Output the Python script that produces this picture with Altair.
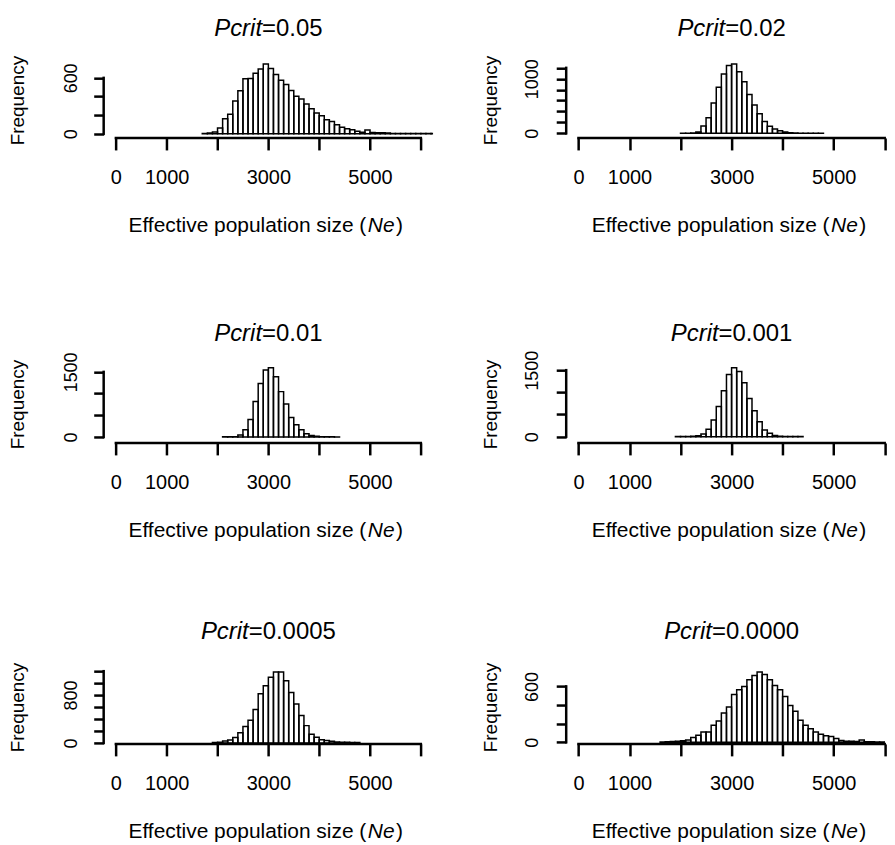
import altair as alt
import pandas as pd

FONT = "Liberation Sans"

# ---------------- data ----------------
pcrit_name = "Pcrit"
pcrit_values = ["=0.05", "=0.02", "=0.01", "=0.001", "=0.0005", "=0.0000"]
x_title_parts = ["Effective population size (", "Ne", ")"]
y_title = "Frequency"

bin_width = 100
first_breaks = [1700, 2000, 2100, 1900, 1900, 1600]

counts_005 = [2, 8, 18, 61, 160, 210, 352, 462, 590, 592, 650, 695, 748, 700, 635,
              574, 528, 463, 402, 372, 320, 268, 223, 192, 151, 131, 97, 70, 54, 42,
              27, 15, 40, 14, 10, 9, 7, 3, 3, 2, 1, 1, 1, 1, 1, 1]
counts_002 = [2, 2, 5, 24, 134, 287, 555, 845, 1088, 1245, 1270, 1130, 945, 713, 520,
              360, 218, 130, 80, 48, 24, 12, 5, 3, 2, 1, 1, 1]
counts_001 = [2, 2, 5, 45, 165, 400, 815, 1235, 1545, 1595, 1390, 1045, 760, 450, 280,
              165, 75, 35, 15, 5, 3, 2, 1]
counts_0001 = [1, 2, 2, 8, 22, 60, 165, 375, 680, 1035, 1400, 1555, 1470, 1215, 862,
               585, 338, 150, 75, 25, 8, 4, 2, 1, 1]
counts_00005 = [8, 12, 30, 50, 90, 170, 275, 380, 560, 822, 955, 1100, 1185, 1185, 1039,
                844, 650, 460, 289, 145, 94, 52, 39, 28, 15, 12, 10, 8, 6]
counts_00000 = [3, 5, 8, 10, 15, 25, 50, 75, 110, 110, 182, 229, 314, 379, 514, 564, 600,
                671, 718, 754, 729, 671, 611, 564, 493, 396, 332, 236, 182, 146, 111, 86,
                70, 62, 39, 20, 12, 10, 8, 25, 5, 4, 3, 3, 2, 1, 1]
all_counts = [counts_005, counts_002, counts_001, counts_0001, counts_00005, counts_00000]

x_ticks = [0, 1000, 2000, 3000, 4000, 5000, 6000]
x_tick_labels = [0, 1000, 3000, 5000]
y_ticks = [[0, 200, 400, 600],
           [0, 200, 400, 600, 800, 1000, 1200],
           [0, 500, 1000, 1500],
           [0, 500, 1000, 1500],
           [0, 200, 400, 600, 800, 1000, 1200],
           [0, 200, 400, 600]]
y_tick_labels = [[0, 600], [0, 1000], [0, 1500], [0, 1500], [0, 800], [0, 600]]

# ---------------- layout ----------------
row_heights = [76, 78, 74]
col_widths = [330.5, 319.6]
x_domains = [[-240, 6240], [-240, 6000]]
y_domains = [[-46, 768], [-86, 1303], [-138, 1654], [-142, 1612], [-17, 1217], [-18, 775]]
title_above_axis = [102.7, 102.0, 105.7]
xtitle_below_axis = 94
ytitle_x = [-76.8, -66.0]
ylabel_pad = [13.0, 14.5]

TITLE_SIZE = 24
XT_SIZE = 21
CHAR_W = {"=": 0.584, ".": 0.278}


def text_width(s, size):
    return sum(CHAR_W.get(ch, 0.556) for ch in s) * size


ITALIC_W = (0.667 + 0.5 + 0.333 + 0.222 + 0.278) * TITLE_SIZE


def label_text(s, xs, xval, y, **kw):
    return alt.Chart(pd.DataFrame({"t": [s], "x": [xval]})).mark_text(
        font=FONT, color="black", baseline="alphabetic", **kw
    ).encode(x=alt.X("x:Q", scale=xs, axis=None), y=alt.value(y), text="t:N")


def panel(i):
    r, c = divmod(i, 2)
    H = row_heights[r]
    W = col_widths[c]
    cnt = all_counts[i]
    starts = [first_breaks[i] + k * bin_width for k in range(len(cnt))]
    df = pd.DataFrame({"start": starts, "count": cnt})
    df["end"] = df["start"] + bin_width

    xs = alt.Scale(domain=x_domains[c], nice=False, zero=False)
    ys = alt.Scale(domain=y_domains[i], nice=False, zero=False)
    lab_x = ",".join(str(v) for v in x_tick_labels)
    lab_y = ",".join(str(v) for v in y_tick_labels[i])

    bars = alt.Chart(df).mark_rect(
        filled=False, stroke="black", strokeWidth=1.5, clip=True
    ).encode(
        x=alt.X("start:Q", scale=xs, axis=alt.Axis(
            values=x_ticks, format="d",
            labelExpr=f"indexof([{lab_x}], datum.value) >= 0 ? datum.label : ''",
            title=None, domain=False, grid=False,
            tickSize=12, tickWidth=2.5, tickColor="black",
            labelFontSize=20, labelFont=FONT, labelColor="black",
            labelPadding=18, labelFlush=False, labelOverlap=False)),
        x2="end:Q",
        y=alt.Y("count:Q", scale=ys, axis=alt.Axis(
            values=y_ticks[i], format="d",
            labelExpr=f"indexof([{lab_y}], datum.value) >= 0 ? datum.label : ''",
            title=y_title, titleX=ytitle_x[c], titleY=H / 2, titleAngle=270,
            titleAlign="center", titleBaseline="bottom",
            titleFontSize=19, titleFont=FONT, titleFontWeight="normal", titleColor="black",
            domain=False, grid=False,
            tickSize=10, tickWidth=2.5, tickColor="black",
            labelAngle=270, labelAlign="center", labelBaseline="bottom",
            labelFontSize=18, labelFont=FONT, labelColor="black",
            labelPadding=ylabel_pad[c], labelFlush=False, labelOverlap=False)),
        y2=alt.datum(0),
    )

    xline = alt.Chart(pd.DataFrame({"lo": [x_ticks[0]], "hi": [x_ticks[-1]]})).mark_rule(
        color="black", strokeWidth=2.5, strokeCap="square"
    ).encode(
        x=alt.X("lo:Q", scale=xs, axis=None), x2="hi:Q", y=alt.value(H)
    )
    yline = alt.Chart(pd.DataFrame({"lo": [y_ticks[i][0]], "hi": [y_ticks[i][-1]]})).mark_rule(
        color="black", strokeWidth=2.5, strokeCap="square"
    ).encode(
        y=alt.Y("lo:Q", scale=ys, axis=None), y2="hi:Q", x=alt.value(0)
    )

    center = (x_ticks[0] + x_ticks[-1]) / 2
    val = pcrit_values[i]
    split = ITALIC_W - (ITALIC_W + text_width(val, TITLE_SIZE)) / 2
    ty = H - title_above_axis[r]
    t_it = label_text(pcrit_name, xs, center, ty, align="right",
                      fontSize=TITLE_SIZE, fontStyle="italic", dx=split)
    t_val = label_text(val, xs, center, ty, align="left",
                       fontSize=TITLE_SIZE, dx=split)

    xty = H + xtitle_below_axis
    w0 = 239.3
    d0 = -141 + w0
    x1 = label_text(x_title_parts[0], xs, center, xty, align="right",
                    fontSize=XT_SIZE, dx=d0)
    x2 = label_text(x_title_parts[1], xs, center, xty, align="left",
                    fontSize=XT_SIZE, fontStyle="italic", dx=d0 + 1.5)
    x3 = label_text(x_title_parts[2], xs, center, xty, align="left",
                    fontSize=XT_SIZE, dx=d0 + 1.5 + 26.8 + 1.5)

    return alt.layer(bars, xline, yline, t_it, t_val, x1, x2, x3).resolve_axis(
        x="independent", y="independent"
    ).properties(width=W, height=H)


panels = [panel(i) for i in range(6)]

chart = alt.concat(
    *panels, columns=2,
    spacing={"row": 228, "column": 133.1},
    bounds="flush", align="each",
).properties(
    padding={"left": 0, "top": 7, "right": 0, "bottom": 0},
    background="white",
).configure_view(strokeWidth=0)

chart.save("out.html", embed_options={"renderer": "svg", "actions": False})
